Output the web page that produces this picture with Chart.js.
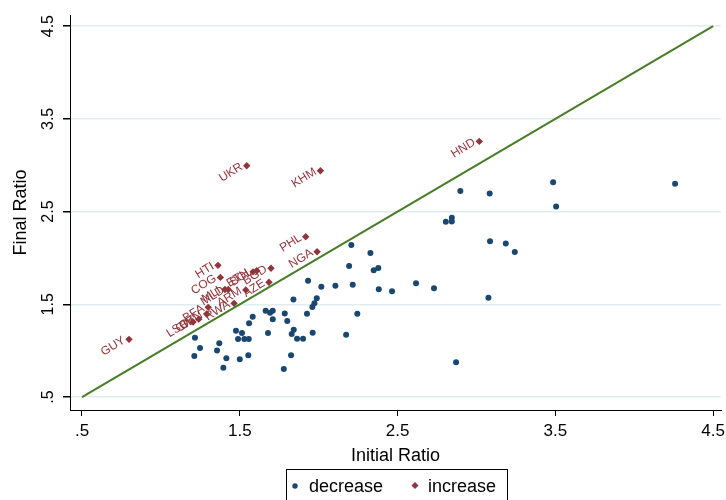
<!DOCTYPE html>
<html>
<head>
<meta charset="utf-8">
<title>Final vs Initial Ratio</title>
<script src="https://cdn.jsdelivr.net/npm/chart.js@4.4.1/dist/chart.umd.min.js"></script>
<style>
  html, body { margin: 0; padding: 0; background: #fff; }
  #wrap { width: 726px; height: 500px; }
</style>
</head>
<body>
<div id="wrap"><canvas id="ratioChart" width="726" height="500"></canvas></div>
<script>
// Countries where the ratio went down
const decX = [2.898, 3.084, 3.486, 4.259, 3.505, 2.806, 2.844, 2.844, 3.086, 3.186, 3.243, 3.076, 2.871,
  2.207, 2.328, 2.193, 2.349, 2.378, 1.933, 2.017, 2.106, 2.216, 2.381, 2.465, 2.617, 2.731,
  1.840, 1.988, 1.973, 1.960, 1.926, 2.245, 1.842, 1.829, 1.863, 1.901, 1.962, 2.174, 1.825,
  1.664, 1.692, 1.709, 1.582, 1.559, 1.709, 1.785, 1.801, 1.679, 1.476, 1.514, 1.489, 1.529, 1.557,
  1.216, 1.248, 1.370, 1.356, 1.212, 1.415, 1.500, 1.554, 1.396, 1.779];
const decY = [2.721, 2.696, 2.815, 2.800, 2.556, 2.390, 2.433, 2.394, 2.179, 2.157, 2.063, 1.571, 0.874,
  2.139, 2.053, 1.912, 1.866, 1.891, 1.754, 1.689, 1.700, 1.711, 1.661, 1.640, 1.726, 1.672,
  1.553, 1.564, 1.510, 1.470, 1.398, 1.398, 1.226, 1.180, 1.129, 1.129, 1.193, 1.172, 0.950,
  1.430, 1.409, 1.430, 1.366, 1.295, 1.338, 1.402, 1.319, 1.190, 1.215, 1.190, 1.125, 1.125, 1.125,
  1.139, 1.028, 1.079, 1.003, 0.942, 0.917, 0.906, 0.950, 0.816, 0.802];

// Countries where the ratio went up (labelled)
const incLabels = ['GUY', 'LSO', 'CIV', 'BEN', 'BFA', 'RWA', 'MLI', 'MLD', 'ARM', 'AZE',
  'ETH', 'BOL', 'BGD', 'COG', 'HTI', 'PHL', 'NGA', 'KHM', 'UKR', 'HND'];
const incX = [0.798, 1.204, 1.240, 1.290, 1.300, 1.464, 1.406, 1.427, 1.538, 1.685,
  1.584, 1.607, 1.698, 1.377, 1.362, 1.918, 1.990, 2.011, 1.544, 3.018];
const incY = [1.122, 1.309, 1.340, 1.395, 1.467, 1.510, 1.660, 1.660, 1.654, 1.737,
  1.850, 1.862, 1.888, 1.790, 1.920, 2.228, 2.067, 2.940, 2.994, 3.257];

// 45 degree reference line
const lineX = [0.5, 4.5];
const lineY = [0.5, 4.5];

const xTicks = [0.5, 1.5, 2.5, 3.5, 4.5];
const xTickLabels = ['.5', '1.5', '2.5', '3.5', '4.5'];
const yTicks = [0.5, 1.5, 2.5, 3.5, 4.5];
const yTickLabels = ['.5', '1.5', '2.5', '3.5', '4.5'];

const FONT = '"Liberation Sans", Arial, Helvetica, sans-serif';
const BLUE = '#1a476f';
const RED = '#90353b';
const GREEN = '#467d27';

function toPoints(xs, ys) {
    return xs.map((x, i) => ({ x: x, y: ys[i] }));
}

// draws the rotated y labels, point labels and the boxed legend
const stataExtras = {
    id: 'stataExtras',
    afterDatasetsDraw(chart) {
        const ctx = chart.ctx;
        const xs = chart.scales.x;
        const ys = chart.scales.y;

        // y tick labels, vertical
        ctx.save();
        ctx.fillStyle = '#000';
        ctx.font = '16px ' + FONT;
        ctx.textAlign = 'center';
        ctx.textBaseline = 'middle';
        yTicks.forEach((v, i) => {
            ctx.save();
            ctx.translate(49, ys.getPixelForValue(v));
            ctx.rotate(-Math.PI / 2);
            ctx.fillText(yTickLabels[i], 0, 0);
            ctx.restore();
        });
        ctx.font = '18px ' + FONT;
        ctx.translate(21, (chart.chartArea.top + chart.chartArea.bottom) / 2);
        ctx.rotate(-Math.PI / 2);
        ctx.fillText('Final Ratio', 0, 0);
        ctx.restore();

        // country labels
        ctx.save();
        ctx.fillStyle = RED;
        ctx.font = '12px ' + FONT;
        ctx.textAlign = 'right';
        ctx.textBaseline = 'middle';
        incLabels.forEach((lab, i) => {
            ctx.save();
            ctx.translate(xs.getPixelForValue(incX[i]) - 5, ys.getPixelForValue(incY[i]));
            ctx.rotate(-32 * Math.PI / 180);
            ctx.fillText(lab, 0, 0);
            ctx.restore();
        });
        ctx.restore();

        // legend
        ctx.save();
        ctx.strokeStyle = '#000';
        ctx.lineWidth = 1;
        ctx.strokeRect(286.5, 469.5, 221, 40);
        ctx.fillStyle = BLUE;
        ctx.beginPath();
        ctx.arc(295, 486, 2.7, 0, Math.PI * 2);
        ctx.fill();
        ctx.fillStyle = RED;
        ctx.beginPath();
        ctx.moveTo(415, 482);
        ctx.lineTo(418.5, 485.5);
        ctx.lineTo(415, 489);
        ctx.lineTo(411.5, 485.5);
        ctx.closePath();
        ctx.fill();
        ctx.fillStyle = '#000';
        ctx.font = '18px ' + FONT;
        ctx.textAlign = 'left';
        ctx.textBaseline = 'middle';
        ctx.fillText('decrease', 309, 487);
        ctx.fillText('increase', 428, 487);
        ctx.restore();
    }
};

new Chart(document.getElementById('ratioChart').getContext('2d'), {
    type: 'scatter',
    data: {
        datasets: [
            {
                label: 'decrease',
                data: toPoints(decX, decY),
                pointStyle: 'circle',
                pointRadius: 3,
                pointHoverRadius: 3,
                backgroundColor: BLUE,
                borderColor: BLUE,
                borderWidth: 0
            },
            {
                label: 'increase',
                data: toPoints(incX, incY),
                pointStyle: 'rectRot',
                pointRadius: 3.7,
                pointHoverRadius: 3.7,
                backgroundColor: RED,
                borderColor: RED,
                borderWidth: 0
            },
            {
                type: 'line',
                label: '45 degree',
                data: toPoints(lineX, lineY),
                borderColor: GREEN,
                borderWidth: 2,
                pointRadius: 0,
                fill: false
            }
        ]
    },
    options: {
        responsive: false,
        animation: false,
        layout: { padding: { top: 15, right: 5, bottom: 33, left: 0 } },
        plugins: {
            legend: { display: false },
            tooltip: { enabled: false }
        },
        scales: {
            x: {
                type: 'linear',
                min: 0.424,
                max: 4.55,
                afterBuildTicks: function(scale) {
                    scale.ticks = xTicks.map(v => ({ value: v }));
                },
                afterFit: function(scale) {
                    scale.height = 57;
                    scale.paddingLeft = 0;
                    scale.paddingRight = 0;
                },
                ticks: {
                    color: '#000',
                    font: { family: FONT, size: 17 },
                    padding: 5,
                    maxRotation: 0,
                    autoSkip: false,
                    callback: function(value, index) {
                        return xTickLabels[index];
                    }
                },
                grid: { drawOnChartArea: false, color: '#000', tickLength: 6 },
                border: { color: '#000', width: 1 },
                title: {
                    display: true,
                    text: 'Initial Ratio',
                    color: '#000',
                    font: { family: FONT, size: 18 },
                    padding: 0
                }
            },
            y: {
                type: 'linear',
                min: 0.36,
                max: 4.62,
                afterBuildTicks: function(scale) {
                    scale.ticks = yTicks.map(v => ({ value: v }));
                },
                afterFit: function(scale) {
                    scale.width = 70;
                    scale.paddingTop = 0;
                    scale.paddingBottom = 0;
                },
                ticks: { display: false },
                grid: { color: '#e1ecef', lineWidth: 1.5, tickColor: '#000', tickLength: 7 },
                border: { color: '#000', width: 1 }
            }
        }
    },
    plugins: [stataExtras]
});
</script>
</body>
</html>
